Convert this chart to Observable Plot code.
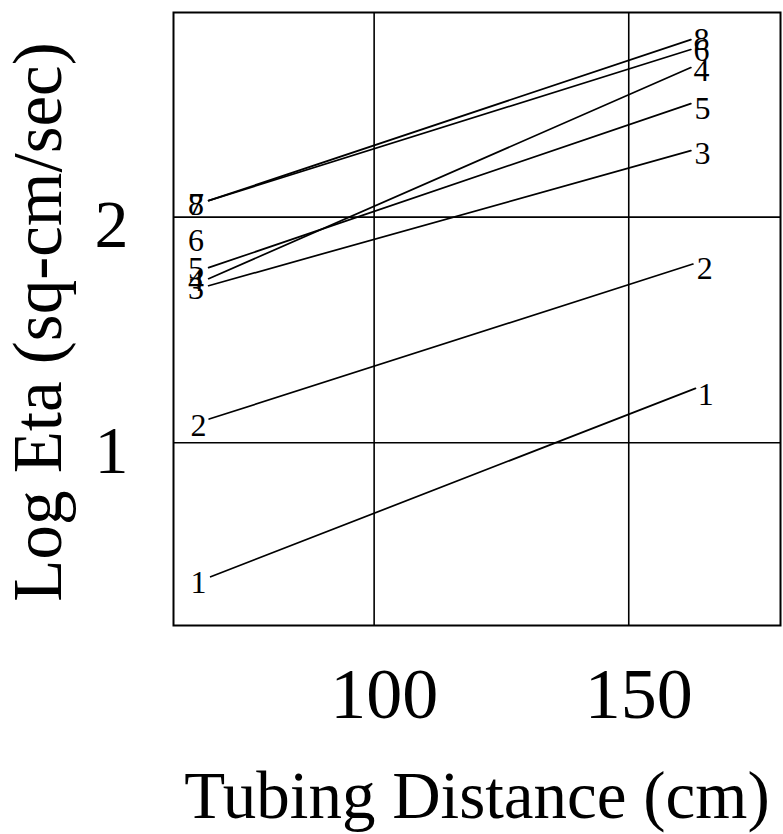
<!DOCTYPE html>
<html>
<head>
<meta charset="utf-8">
<script src="https://cdn.jsdelivr.net/npm/d3@7"></script>
<script src="https://cdn.jsdelivr.net/npm/@observablehq/plot@0.6"></script>
<style>
  html, body { margin: 0; padding: 0; background: #fff; }
  #chart svg { display: block; }
</style>
</head>
<body>
<div id="chart"></div>
<script>
// Series drawn as straight lines (log eta vs tubing distance)
const lineIds = ["1", "2", "3", "4", "5", "7", "8"];
const xStart  = [67.9, 67.6, 67.5, 67.5, 67.5, 67.5, 67.5];
const xEnd    = [163.1, 162.6, 162.2, 162.2, 162.2, 162.2, 162.2];
const yStart  = [0.406, 1.105, 1.696, 1.727, 1.776, 2.073, 2.073];
const yEnd    = [1.241, 1.792, 2.295, 2.663, 2.503, 2.743, 2.787];

// Curve labels at the left and right ends
const leftLabels  = ["8", "7", "6", "5", "4", "3", "2", "1"];
const leftLabelX  = [65.0, 65.0, 65.0, 65.0, 65.0, 65.0, 65.5, 65.5];
const leftLabelY  = [2.055, 2.055, 1.896, 1.772, 1.718, 1.683, 1.075, 0.379];
const rightLabels = ["8", "6", "4", "5", "3", "2", "1"];
const rightLabelX = [164.3, 164.3, 164.3, 164.5, 164.5, 164.9, 165.1];
const rightLabelY = [2.787, 2.738, 2.650, 2.481, 2.282, 1.772, 1.213];

// Axes
const xTicks = [100, 150];
const yTicks = [1, 2];
const xDomain = [60.6, 179.8];
const yDomain = [0.19, 2.907];
const xTitle = "Tubing Distance (cm)";
const yTitle = "Log Eta (sq-cm/sec)";

const lineData = lineIds.flatMap((id, i) => [
  {id, x: xStart[i], y: yStart[i]},
  {id, x: xEnd[i], y: yEnd[i]}
]);
const leftData = leftLabels.map((t, i) => ({t, x: leftLabelX[i], y: leftLabelY[i]}));
const rightData = rightLabels.map((t, i) => ({t, x: rightLabelX[i], y: rightLabelY[i]}));

const serif = "'Liberation Serif', 'Times New Roman', serif";

const chart = Plot.plot({
  width: 783,
  height: 834,
  marginLeft: 173,
  marginRight: 3,
  marginTop: 12,
  marginBottom: 209,
  style: {fontFamily: serif, background: "white", color: "black"},
  x: {domain: xDomain},
  y: {domain: yDomain},
  marks: [
    Plot.ruleX(xTicks, {stroke: "black", strokeWidth: 1.6}),
    Plot.ruleY(yTicks, {stroke: "black", strokeWidth: 1.6}),
    Plot.frame({stroke: "black", strokeWidth: 2}),
    Plot.line(lineData, {x: "x", y: "y", z: "id", stroke: "black", strokeWidth: 1.7}),
    Plot.text(leftData, {x: "x", y: "y", text: "t", fontSize: 32, fill: "black"}),
    Plot.text(rightData, {x: "x", y: "y", text: "t", fontSize: 32, fill: "black"}),
    Plot.axisX({ticks: xTicks, tickSize: 0, fontSize: 72, dy: 32, dx: 10, label: null, fill: "black", tickFormat: d => String(d)}),
    Plot.axisY({ticks: yTicks, tickSize: 0, fontSize: 68, dx: -36, dy: 8, label: null, fill: "black", tickFormat: d => String(d)}),
    Plot.text([xTitle], {frameAnchor: "bottom", textAnchor: "middle", lineAnchor: "middle", dy: 171, fontSize: 67, fill: "black"}),
    Plot.text([yTitle], {frameAnchor: "left", textAnchor: "middle", lineAnchor: "middle", rotate: -90, dx: -135, dy: 3, fontSize: 69, fill: "black"})
  ]
});
document.getElementById("chart").append(chart);
</script>
</body>
</html>
